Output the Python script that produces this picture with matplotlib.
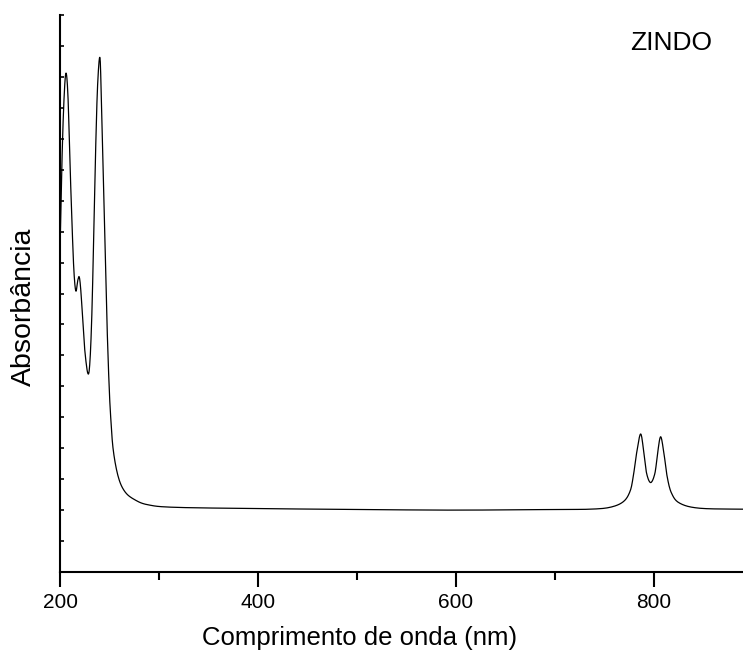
import matplotlib
matplotlib.use("Agg")
import matplotlib.pyplot as plt
import numpy as np

plt.rcParams['font.family'] = ['Liberation Sans', 'DejaVu Sans']

# wavelength (nm)
wavelength = [200, 202, 204, 206, 208, 210, 212, 214, 216, 218, 219.5, 221, 223, 225, 228,
              230, 232, 234, 236, 238, 240.4, 242, 244, 246, 247.5, 249.5, 251.2, 253.8,
              258.9, 265.7, 275.8, 289.2, 316.2, 400, 500, 600, 700, 735.4, 755.6, 769.0,
              775.8, 779.1, 782.5, 786.6, 789.9, 792.6, 796.7, 801.0, 803.7, 806.8, 810.1,
              813.4, 817.9, 826.3, 846.5, 890]
# absorbance (arbitrary units, 0..1.8 axis)
absorbance = [1.039, 1.331, 1.525, 1.612, 1.541, 1.331, 1.137, 0.976, 0.908, 0.943, 0.953,
              0.911, 0.814, 0.718, 0.643, 0.669, 0.814, 1.073, 1.364, 1.574, 1.661, 1.49,
              1.25, 0.99, 0.80, 0.611, 0.501, 0.394, 0.307, 0.259, 0.233, 0.217, 0.209,
              0.205, 0.202, 0.200, 0.202, 0.203, 0.209, 0.227, 0.260, 0.308, 0.384, 0.446,
              0.384, 0.319, 0.289, 0.319, 0.384, 0.437, 0.384, 0.308, 0.254, 0.222, 0.206,
              0.203]

x = np.array(wavelength, dtype=float)
y = np.array(absorbance, dtype=float)


def catmull(xp, yp, n=12):
    xs, ys = [], []
    for i in range(len(xp) - 1):
        x0 = xp[i - 1] if i > 0 else xp[i]
        y0 = yp[i - 1] if i > 0 else yp[i]
        x3 = xp[i + 2] if i + 2 < len(xp) else xp[i + 1]
        y3 = yp[i + 2] if i + 2 < len(yp) else yp[i + 1]
        t = np.linspace(0, 1, n, endpoint=False)
        for (a0, a1, a2, a3, out) in ((x0, xp[i], xp[i + 1], x3, xs), (y0, yp[i], yp[i + 1], y3, ys)):
            m1 = (a2 - a0) / 2
            m2 = (a3 - a1) / 2
            h00 = 2*t**3 - 3*t**2 + 1
            h10 = t**3 - 2*t**2 + t
            h01 = -2*t**3 + 3*t**2
            h11 = t**3 - t**2
            out.extend(h00*a1 + h10*m1 + h01*a2 + h11*m2)
    xs.append(xp[-1]); ys.append(yp[-1])
    return np.array(xs), np.array(ys)


xs, ys = catmull(x, y)

fig = plt.figure(figsize=(7.43, 6.53), dpi=100)
ax = fig.add_axes([60/743, 1 - 572/653, 683/743, (572 - 15)/653])
ax.plot(xs, ys, color='black', lw=0.9)

ax.set_xlim(200, 890)
ax.set_ylim(0, 1.8)
ax.spines['top'].set_visible(False)
ax.spines['right'].set_visible(False)
for s in ('left', 'bottom'):
    ax.spines[s].set_linewidth(1.5)

ax.set_xticks([200, 400, 600, 800])
ax.set_xticks([300, 500, 700], minor=True)
ax.tick_params(axis='x', which='major', direction='out', length=11, width=1.5, labelsize=15, pad=4)
ax.tick_params(axis='x', which='minor', direction='out', length=6, width=1.5)
ax.set_yticks(np.arange(0, 1.81, 0.1))
ax.tick_params(axis='y', which='major', direction='in', length=3, width=1.2, labelleft=False)

fig.text(360/743, 1 - 638/653, 'Comprimento de onda (nm)', fontsize=18.5, ha='center', va='center')
fig.text(24/743, 1 - 307/653, 'Absorbância', fontsize=20.5, rotation=90, ha='center', va='center')
fig.text(712/743, 1 - 43/653, 'ZINDO', fontsize=19, ha='right', va='center')

fig.savefig('out.png', dpi=100)
